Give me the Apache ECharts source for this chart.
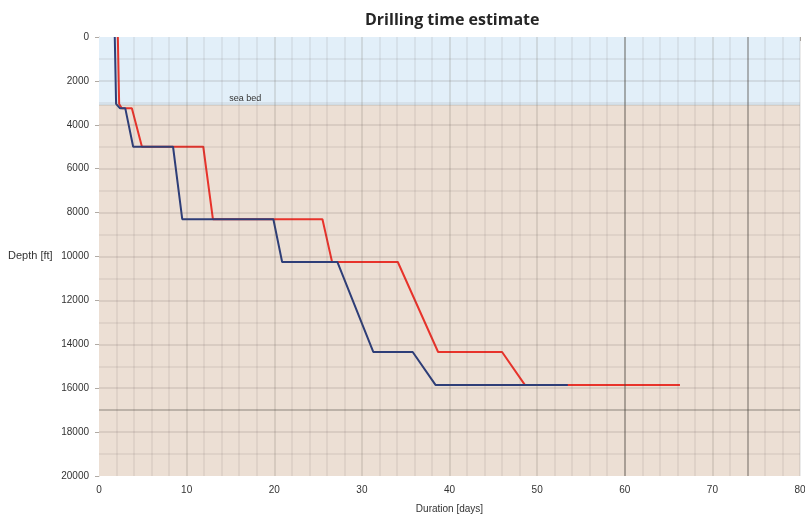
<!DOCTYPE html>
<html><head><meta charset="utf-8">
<script src="https://cdn.jsdelivr.net/npm/echarts/dist/echarts.min.js"></script>
<style>html,body{margin:0;padding:0;background:#fff}#c{width:805px;height:515px}</style>
</head><body><div id="c"></div>
<script>
// Plan A (blue) – duration [days] and depth [ft]
const blueDays  = [1.8, 1.95, 2.4, 3.0, 3.9, 8.45, 9.5, 19.9, 20.9, 27.2, 31.3, 35.8, 38.4, 53.5];
const blueDepth = [0, 3050, 3250, 3250, 5000, 5000, 8300, 8300, 10250, 10250, 14350, 14350, 15850, 15850];
// Plan B (red)
const redDays  = [2.15, 2.3, 2.6, 3.75, 4.9, 11.9, 13.0, 25.5, 26.6, 34.1, 38.7, 46.0, 48.6, 66.3];
const redDepth = [0, 3050, 3250, 3250, 5000, 5000, 8300, 8300, 10250, 10250, 14350, 14350, 15850, 15850];
const seabedDepth = 3100;
const seabedLabel = 'sea bed';
const seabedLabelPos = [16.7, 2800];
const extraVLines = [60, 74];
const extraHLines = [17000];
const xMax = 80, yMax = 20000;
const xMinorStep = 2, xMajorStep = 10;
const yMinorStep = 1000, yMajorStep = 2000;

const chart = echarts.init(document.getElementById('c'));
const pairs = (xs, ys) => xs.map((x, i) => [x, ys[i]]);
const fontFam = '"Liberation Sans", Arial, sans-serif';

const gridLines = [];
for (let v = xMinorStep; v < xMax; v += xMinorStep) {
  const major = v % xMajorStep === 0;
  gridLines.push({xAxis: v, lineStyle: {color: major ? 'rgba(90,80,70,0.19)' : 'rgba(90,80,70,0.11)'}});
}
for (let v = yMinorStep; v < yMax; v += yMinorStep) {
  const major = v % yMajorStep === 0;
  gridLines.push({yAxis: v, lineStyle: {color: major ? 'rgba(90,80,70,0.17)' : 'rgba(90,80,70,0.11)'}});
}
extraVLines.forEach(v => gridLines.push({xAxis: v, lineStyle: {color: 'rgba(70,65,60,0.42)'}}));
extraHLines.forEach(v => gridLines.push({yAxis: v, lineStyle: {color: 'rgba(70,65,60,0.3)'}}));
gridLines.push({yAxis: seabedDepth, lineStyle: {color: 'rgba(90,90,90,0.18)'}});

chart.setOption({
  animation: false,
  title: {
    text: 'Drilling time estimate', left: 360, top: 7,
    textStyle: {fontFamily: '"Open Sans", sans-serif', fontWeight: 'bold', fontSize: 16, color: '#262626'}
  },
  grid: {left: 99, right: 5, top: 37, bottom: 39, outerBoundsMode: 'none', containLabel: false},
  xAxis: {
    type: 'value', min: 0, max: xMax, interval: xMajorStep,
    name: 'Duration [days]', nameLocation: 'middle', nameGap: 28,
    nameTextStyle: {fontFamily: fontFam, fontSize: 10, color: '#333'},
    axisLine: {show: true, lineStyle: {color: '#c8c4c0'}},
    axisTick: {show: true, length: 4, lineStyle: {color: '#b0aaa4'}},
    axisLabel: {fontFamily: fontFam, fontSize: 10, color: '#333', margin: 9, formatter: v => String(v)},
    splitLine: {show: false}
  },
  yAxis: {
    type: 'value', min: 0, max: yMax, interval: yMajorStep, inverse: true,
    axisLine: {show: true, lineStyle: {color: '#c8c4c0'}},
    axisTick: {show: true, length: 4, lineStyle: {color: '#b0aaa4'}},
    axisLabel: {fontFamily: fontFam, fontSize: 10, color: '#333', margin: 10, formatter: v => String(v)},
    splitLine: {show: false}
  },
  graphic: [{
    type: 'text', left: 8, top: 250,
    style: {text: 'Depth [ft]', fontFamily: fontFam, fontSize: 11, fill: '#333'}
  }],
  series: [
    {
      type: 'line', data: [], z: 1, silent: true,
      markArea: {
        silent: true,
        data: [
          [{yAxis: 0, itemStyle: {color: '#e2eff9'}}, {yAxis: seabedDepth}],
          [{yAxis: seabedDepth, itemStyle: {color: '#ecdfd4'}}, {yAxis: yMax}]
        ]
      }
    },
    {
      type: 'line', data: [], z: 2, silent: true,
      markLine: {
        silent: true, symbol: 'none', label: {show: false},
        lineStyle: {type: 'solid', width: 1.5},
        data: gridLines.concat([{xAxis: xMax, lineStyle: {color: 'rgba(120,120,120,0.2)'}}])
      }
    },
    {
      name: 'B', type: 'line', data: pairs(redDays, redDepth), symbol: 'none', z: 3,
      lineStyle: {color: '#e8332b', width: 2}
    },
    {
      name: 'A', type: 'line', data: pairs(blueDays, blueDepth), symbol: 'none', z: 4,
      lineStyle: {color: '#2e3e78', width: 2},
      markPoint: {
        symbolSize: 0, silent: true,
        data: [{coord: seabedLabelPos, value: seabedLabel}],
        label: {show: true, formatter: seabedLabel, fontFamily: fontFam, fontSize: 9, color: '#333'}
      }
    }
  ]
});
</script>
</body></html>
